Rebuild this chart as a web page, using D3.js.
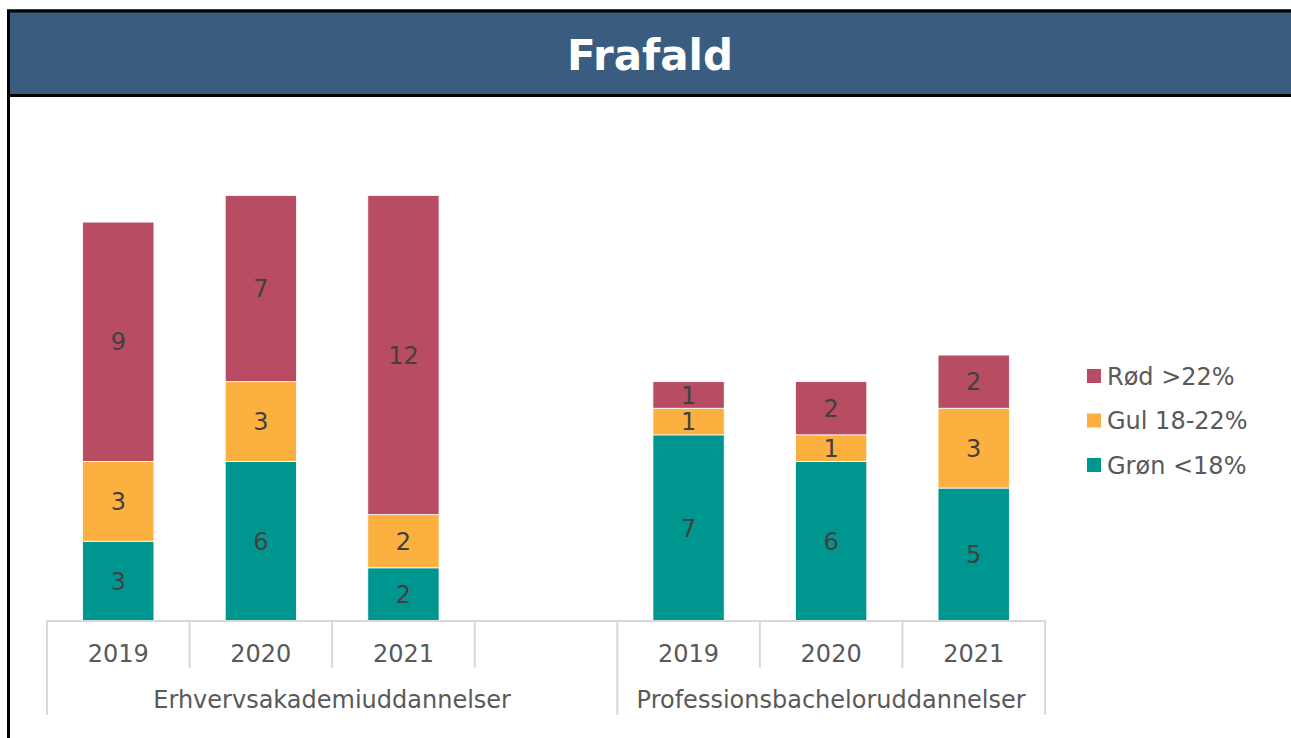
<!DOCTYPE html>
<html>
<head>
<meta charset="utf-8">
<script src="https://cdn.jsdelivr.net/npm/d3@7"></script>
<style>
  html, body { margin: 0; padding: 0; background: #ffffff; }
  svg { display: block; }
  text { font-family: "DejaVu Sans", Verdana, sans-serif; }
</style>
</head>
<body>
<svg id="chart" width="1291" height="738"></svg>
<script>
// ---- data ----
const title = "Frafald";
const groups = ["Erhvervsakademiuddannelser", "Professionsbacheloruddannelser"];
// each slot: group index + year label ("" = empty category)
const slotGroups = [0, 0, 0, 0, 1, 1, 1];
const slotYears = ["2019", "2020", "2021", "", "2019", "2020", "2021"];
const seriesNames = ["Grøn <18%", "Gul 18-22%", "Rød >22%"];
const seriesColors = ["#009690", "#fbb040", "#b84c62"];
const groen = [3, 6, 2, null, 7, 6, 5];
const gul = [3, 3, 2, null, 1, 1, 3];
const roed = [9, 7, 12, null, 1, 2, 2];

// ---- layout ----
const svg = d3.select("#chart");
const W = 1291, H = 738;

// frame + title bar
svg.append("rect").attr("x", 8.5).attr("y", 11).attr("width", W + 10).attr("height", H + 20)
  .attr("fill", "#fff").attr("stroke", "#000").attr("stroke-width", 3);
svg.append("rect").attr("x", 8.5).attr("y", 11).attr("width", W + 10).attr("height", 84.5)
  .attr("fill", "#3a5c7f").attr("stroke", "#000").attr("stroke-width", 3);
svg.append("text").attr("x", 650).attr("y", 70).attr("text-anchor", "middle")
  .attr("font-size", 42).attr("font-weight", "bold").attr("fill", "#fff").text(title);

const slots = d3.range(slotYears.length);
const x = d3.scaleBand().domain(slots).range([47, 1045]).paddingInner(0).paddingOuter(0);
const y = d3.scaleLinear().domain([0, 16]).range([621, 195.5]);

const stackData = slots.map(i => ({ i, g: groen[i], y: gul[i], r: roed[i] }));
const stack = d3.stack().keys(["g", "y", "r"]).value((d, k) => d[k] || 0);
const series = stack(stackData.filter(d => d.g !== null));

const barW = x.bandwidth() * 0.5;
const gBars = svg.append("g");
series.forEach((s, si) => {
  gBars.selectAll(null).data(s).enter().append("rect")
    .attr("x", d => x(d.data.i) + (x.bandwidth() - barW) / 2)
    .attr("y", d => y(d[1]))
    .attr("width", barW)
    .attr("height", d => y(d[0]) - y(d[1]))
    .attr("fill", seriesColors[si])
    .attr("stroke", "#fff").attr("stroke-width", 0.8);
  gBars.selectAll(null).data(s).enter().append("text")
    .attr("x", d => x(d.data.i) + x.bandwidth() / 2)
    .attr("y", d => (y(d[0]) + y(d[1])) / 2)
    .attr("dy", "0.36em")
    .attr("text-anchor", "middle")
    .attr("font-size", 24).attr("fill", "#404040")
    .text(d => d[1] - d[0]);
});

// category axis
const axisColor = "#d9d9d9";
const gAxis = svg.append("g");
gAxis.append("line").attr("x1", 47).attr("x2", 1045).attr("y1", 621).attr("y2", 621)
  .attr("stroke", axisColor).attr("stroke-width", 2);
const boundaries = d3.range(slotYears.length + 1);
boundaries.forEach(b => {
  const bx = b < slotYears.length ? x(b) : x.range()[1];
  const isGroupEdge = b === 0 || b === slotYears.length || slotGroups[b] !== slotGroups[b - 1];
  gAxis.append("line").attr("x1", bx).attr("x2", bx).attr("y1", 620).attr("y2", isGroupEdge ? 715 : 668)
    .attr("stroke", axisColor).attr("stroke-width", 2);
});
gAxis.selectAll(null).data(slots.filter(i => slotYears[i] !== "")).enter().append("text")
  .attr("x", i => x(i) + x.bandwidth() / 2).attr("y", 662)
  .attr("text-anchor", "middle").attr("font-size", 24).attr("fill", "#595959")
  .text(i => slotYears[i]);
groups.forEach((gname, gi) => {
  const idx = slots.filter(i => slotGroups[i] === gi);
  const x0 = x(idx[0]), x1 = x(idx[idx.length - 1]) + x.bandwidth();
  gAxis.append("text").attr("x", (x0 + x1) / 2).attr("y", 708)
    .attr("text-anchor", "middle").attr("font-size", 24).attr("fill", "#595959").text(gname);
});

// legend (reverse order: Rød top)
const legendOrder = [2, 1, 0];
const gLeg = svg.append("g");
legendOrder.forEach((si, k) => {
  const cy = 376 + k * 44.5;
  gLeg.append("rect").attr("x", 1087).attr("y", cy - 7).attr("width", 14).attr("height", 14)
    .attr("fill", seriesColors[si]);
  gLeg.append("text").attr("x", 1107).attr("y", cy).attr("dy", "0.36em")
    .attr("font-size", 24).attr("fill", "#595959").text(seriesNames[si]);
});
</script>
</body>
</html>
